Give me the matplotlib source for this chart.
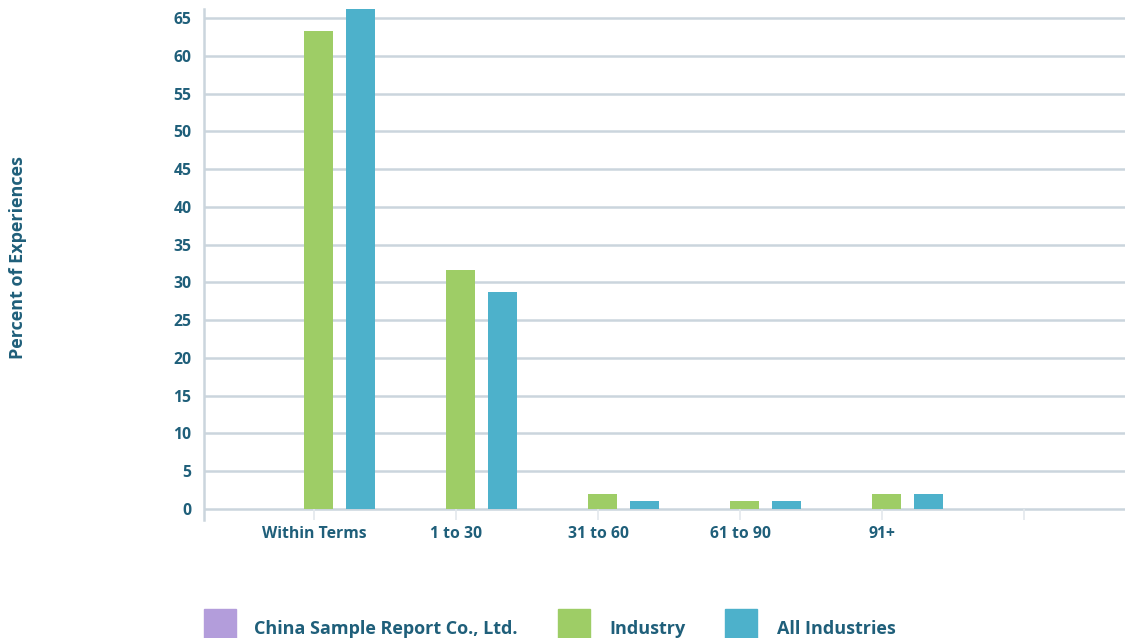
import matplotlib.pyplot as plt
from matplotlib.patches import Rectangle
import numpy as np

plt.rcParams['font.family'] = ['Open Sans', 'DejaVu Sans']

categories = ["Within Terms", "1 to 30", "31 to 60", "61 to 90", "91+", ""]
company = [0, 0, 0, 0, 0, 0]
industry = [63.3, 31.6, 2, 1, 2, 0]
all_industries = [66.2, 28.7, 1, 1, 2, 0]
series_names = ["China Sample Report Co., Ltd.", "Industry", "All Industries"]

purple = '#b39ddb'
green = '#9ecd66'
blue = '#4db1cb'
grid_c = '#cbd5dd'
text_c = '#1f5f7a'

fig = plt.figure(figsize=(11.25, 6.38), dpi=100)
ax = fig.add_axes([204 / 1125, 1 - 520 / 638, 921 / 1125, 511 / 638])

x = np.arange(len(categories))
w = 0.204
step = 0.296
center = x + 0.032
ax.bar(center - step, company, w, color=purple, zorder=3)
ax.bar(center, industry, w, color=green, zorder=3)
ax.bar(center + step, all_industries, w, color=blue, zorder=3)

ax.set_xlim(-0.775, 5.711)
ax.set_ylim(-1.456, 66.19)
ax.set_yticks(np.arange(0, 66, 5))
for yv in np.arange(0, 66, 5):
    ax.axhline(yv, color=grid_c, lw=1.8, zorder=1)
ax.vlines(x, -1.456, 0, color='#e3e8ec', lw=1.2, zorder=1)

ax.set_xticks(x)
ax.set_xticklabels(categories)
ax.tick_params(axis='both', length=0, colors=text_c, labelsize=11.3)
ax.tick_params(axis='x', pad=4)
ax.tick_params(axis='y', pad=9)
for lab in ax.get_xticklabels() + ax.get_yticklabels():
    lab.set_fontweight('bold')

for s in ['top', 'right', 'bottom']:
    ax.spines[s].set_visible(False)
ax.spines['left'].set_color(grid_c)
ax.spines['left'].set_linewidth(1.8)

ax.set_ylabel("Percent of Experiences", color=text_c, fontsize=13, fontweight='bold')
ax.yaxis.set_label_coords(-0.192, 0.513)

# legend along the bottom edge
legend_items = [(series_names[0], purple, 204, 254),
                (series_names[1], green, 558, 609),
                (series_names[2], blue, 725, 777)]
for name, col, px, tx in legend_items:
    fig.patches.append(Rectangle((px / 1125, 0), 32 / 1125, 29 / 638,
                                 transform=fig.transFigure, color=col))
    fig.text(tx / 1125, 0, name, color=text_c, fontsize=13,
             fontweight='bold', va='bottom', ha='left')

fig.savefig('out.png', dpi=100)
